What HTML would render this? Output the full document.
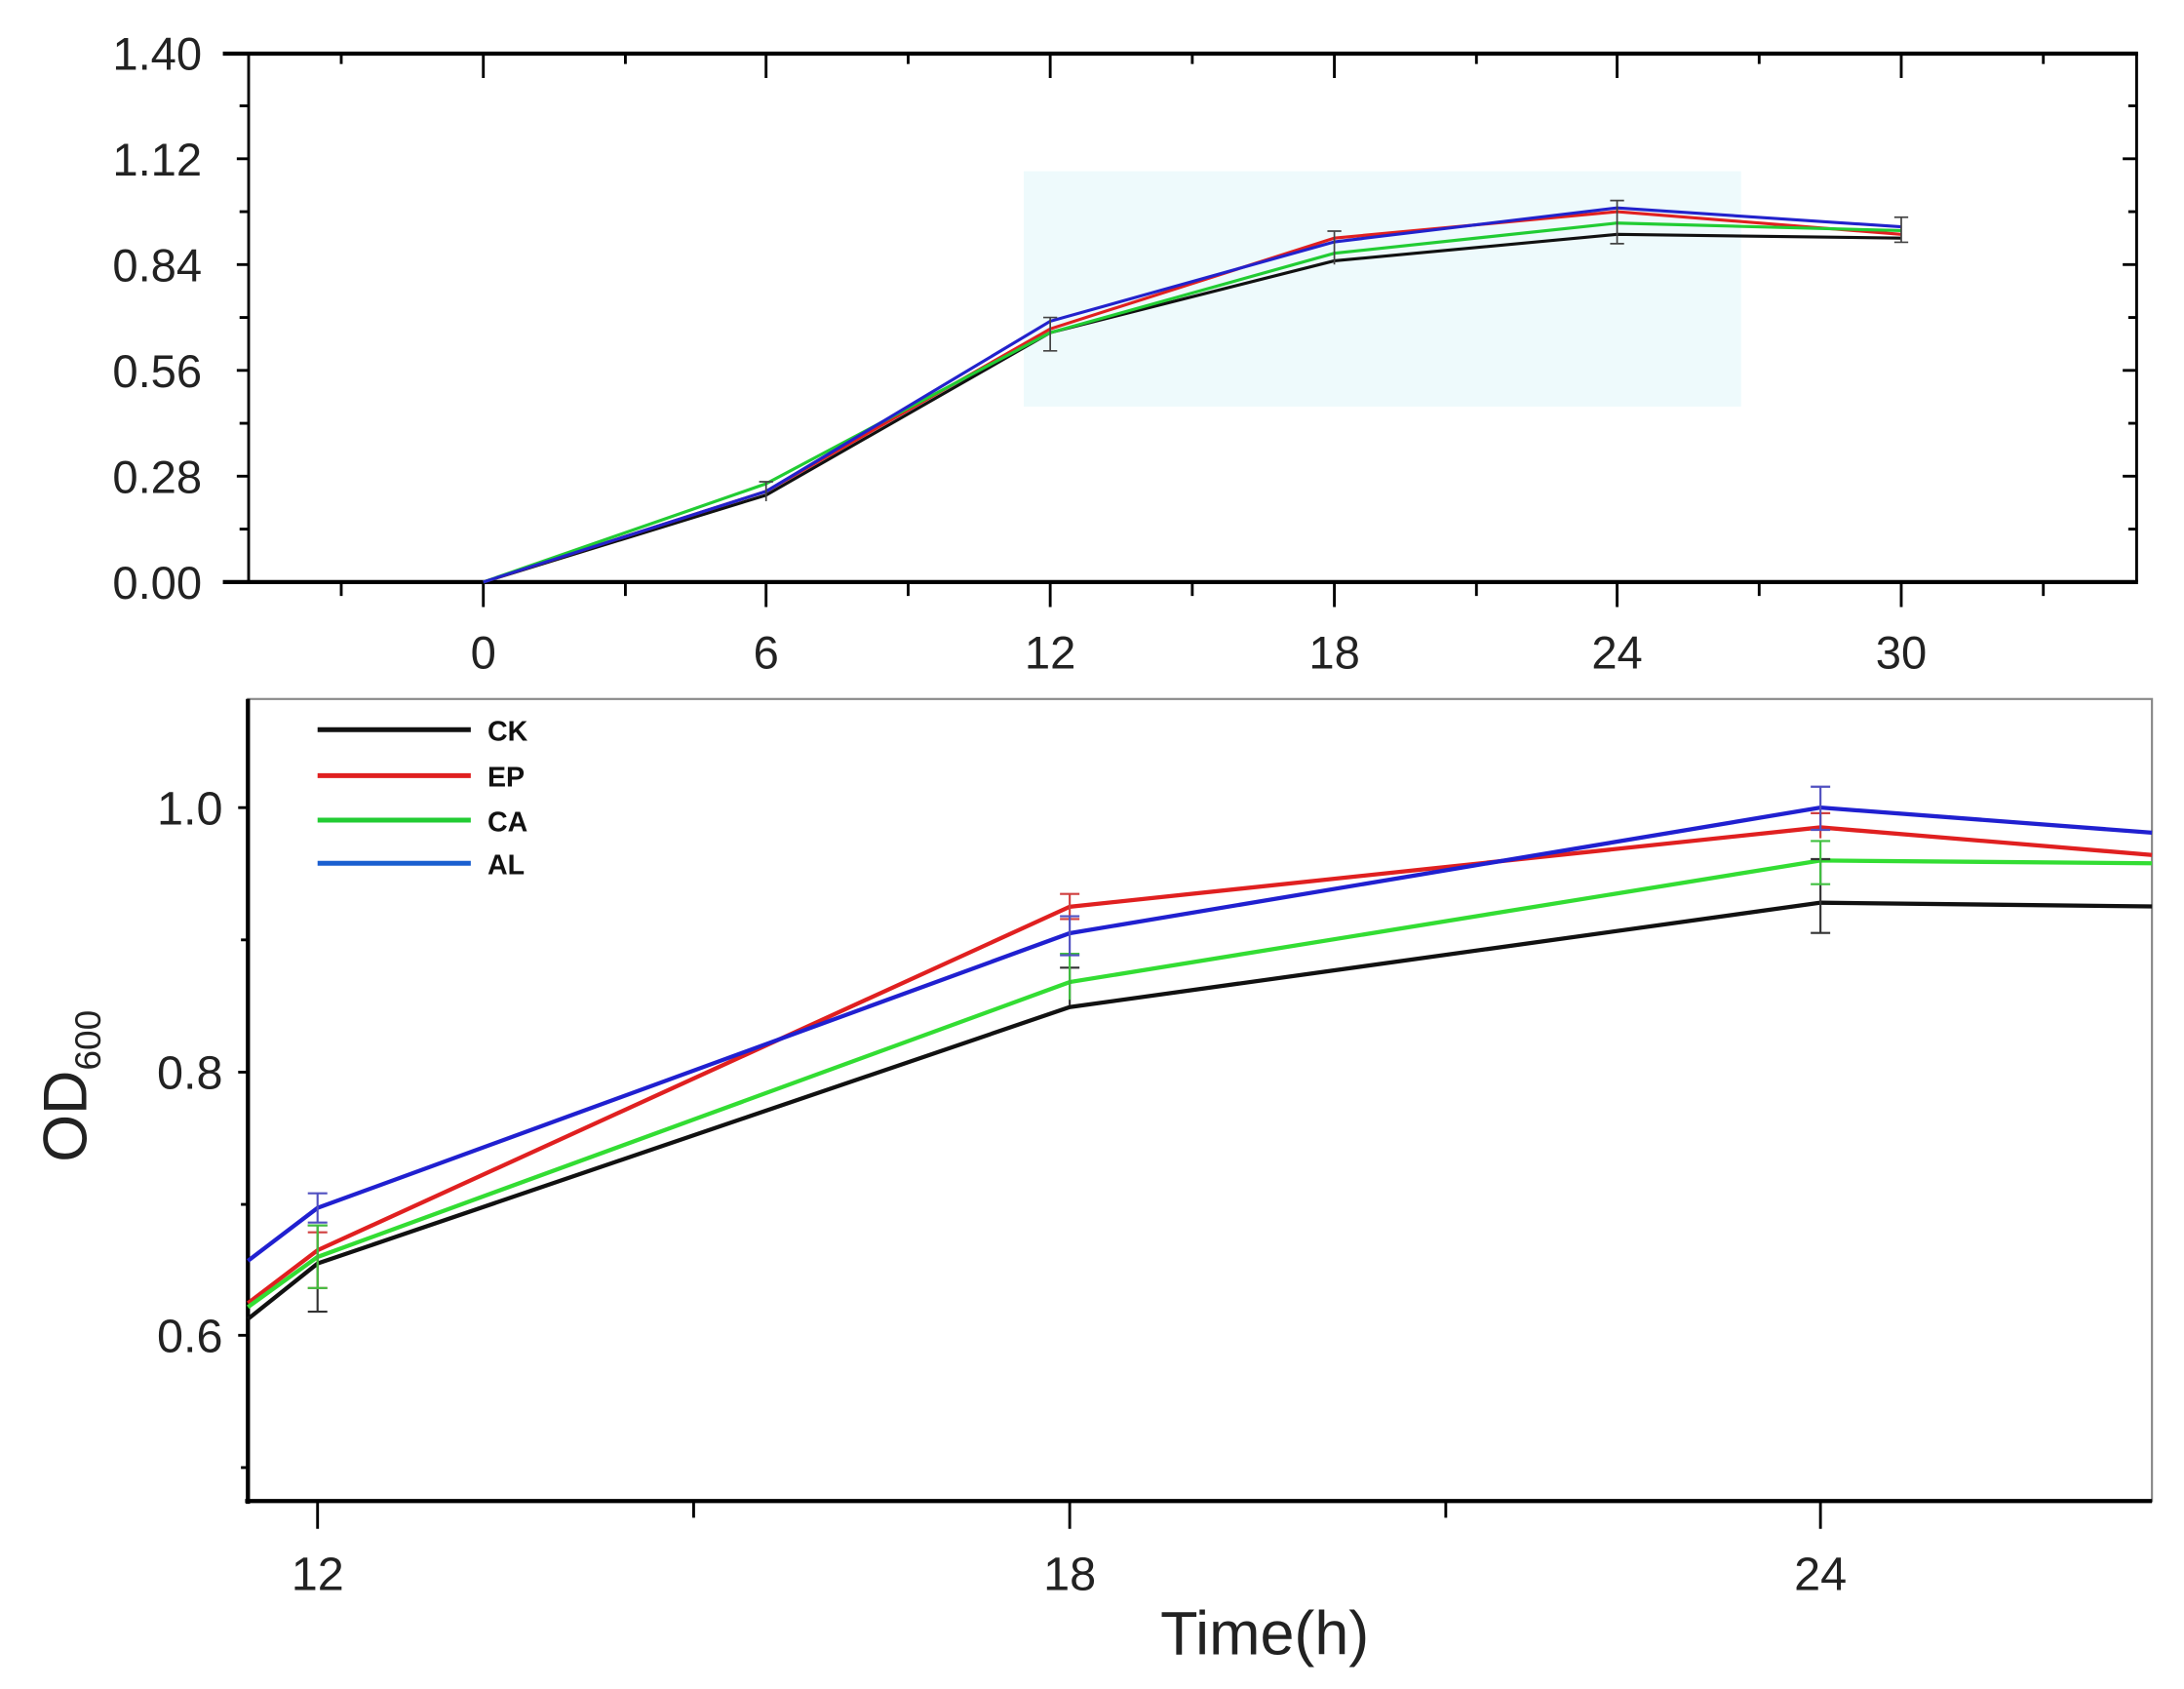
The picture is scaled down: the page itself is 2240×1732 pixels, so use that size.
<!DOCTYPE html>
<html><head><meta charset="utf-8"><style>html,body{margin:0;padding:0;background:#fff}svg{display:block}</style></head>
<body>
<svg width="2240" height="1732" viewBox="0 0 1568 1213" preserveAspectRatio="none" xmlns="http://www.w3.org/2000/svg" font-family="Liberation Sans, sans-serif">
<rect width="1568" height="1213" fill="#fff"/>
<!-- TOP PANEL -->
<rect x="735" y="123" width="515" height="169" fill="#eefafc"/>
<g stroke="#000" fill="none">
<line x1="160" y1="38.5" x2="1535" y2="38.5" stroke-width="3"/>
<line x1="160" y1="418" x2="1535" y2="418" stroke-width="3"/>
<line x1="178.5" y1="38" x2="178.5" y2="418" stroke-width="2"/>
<line x1="1534" y1="38" x2="1534" y2="418" stroke-width="2"/>
<g stroke-width="2">
<path d="M170 114H178M170 190H178M170 266H178M170 342H178M172 76H178M172 152H178M172 228H178M172 304H178M172 380H178"/>
<path d="M1524 114H1534M1524 190H1534M1524 266H1534M1524 342H1534M1528 76H1534M1528 152H1534M1528 228H1534M1528 304H1534M1528 380H1534"/>
<path d="M347 418V436M550 418V436M754 418V436M958 418V436M1161 418V436M1365 418V436M245 418V428M449 418V428M652 418V428M856 418V428M1060 418V428M1263 418V428M1467 418V428"/>
<path d="M347 38V56M550 38V56M754 38V56M958 38V56M1161 38V56M1365 38V56M245 38V46M449 38V46M652 38V46M856 38V46M1060 38V46M1263 38V46M1467 38V46"/>
</g>
</g>
<g font-size="33" fill="#222" text-anchor="end">
<text x="145" y="50">1.40</text><text x="145" y="126">1.12</text><text x="145" y="202">0.84</text>
<text x="145" y="278">0.56</text><text x="145" y="354">0.28</text><text x="145" y="430">0.00</text>
</g>
<g font-size="33" fill="#222" text-anchor="middle">
<text x="347" y="480">0</text><text x="550" y="480">6</text><text x="754" y="480">12</text>
<text x="958" y="480">18</text><text x="1161" y="480">24</text><text x="1365" y="480">30</text>
</g>
<g fill="none" stroke-width="2.2">
<polyline stroke="#111" points="347,418 550,355.6 754,238.9 958,187.3 1161,168.3 1365,171"/>
<polyline stroke="#e02020" points="347,418 550,352.9 754,236.2 958,171 1161,152 1365,168.3"/>
<polyline stroke="#22cc33" points="347,418 550,347.4 754,238.9 958,181.9 1161,160.2 1365,165.6"/>
<polyline stroke="#2222cc" points="347,418 550,352.9 754,230.7 958,173.7 1161,149.3 1365,162.9"/>
</g>
<g stroke="#444" stroke-width="1.2" fill="none">
<path d="M754 228V252M749 228H759M749 252H759M1161 144V175M1156 144H1166M1156 175H1166M1365 156V174M1360 156H1370M1360 174H1370M958 166V190M953 166H963M550 346V360M545 346H555"/>
</g>
<!-- BOTTOM PANEL -->
<rect x="178" y="502" width="1367" height="576" fill="none" stroke="#888" stroke-width="1.5"/>
<g stroke="#000" fill="none">
<line x1="178" y1="502" x2="178" y2="1080" stroke-width="3"/>
<line x1="176" y1="1078" x2="1545" y2="1078" stroke-width="3"/>
<path stroke-width="2" d="M171 580H178M171 770H178M171 959H178M173 675H178M173 865H178M173 1054H178M228 1078V1098M768 1078V1098M1307 1078V1098M498 1078V1090M1038 1078V1090"/>
</g>
<g font-size="34" fill="#222" text-anchor="end">
<text x="160" y="592">1.0</text><text x="160" y="782">0.8</text><text x="160" y="971">0.6</text>
</g>
<g font-size="34" fill="#222" text-anchor="middle">
<text x="228" y="1142">12</text><text x="768" y="1142">18</text><text x="1307" y="1142">24</text>
<text x="908" y="1188" font-size="44">Time(h)</text>
</g>
<text transform="translate(62,780) rotate(-90)" font-size="44" fill="#222" text-anchor="middle">OD<tspan font-size="26" dy="10">600</tspan></text>
<g stroke-width="3.5">
<line x1="228" y1="524" x2="338" y2="524" stroke="#111"/>
<line x1="228" y1="557" x2="338" y2="557" stroke="#e02020"/>
<line x1="228" y1="589" x2="338" y2="589" stroke="#22cc33"/>
<line x1="228" y1="620" x2="338" y2="620" stroke="#1a5fd0"/>
</g>
<g font-size="20" font-weight="bold" fill="#111">
<text x="350" y="532">CK</text><text x="350" y="565">EP</text><text x="350" y="597">CA</text><text x="350" y="628">AL</text>
</g>
<g fill="none" stroke-width="3">
<polyline stroke="#111" points="178,947.3 228,907.4 768,723.3 1307,648.3 1545,651"/>
<polyline stroke="#e02020" points="178,935.9 228,897.9 768,651.2 1307,594.2 1545,614"/>
<polyline stroke="#33dd33" points="178,938.7 228,902.7 768,705.3 1307,618 1545,620"/>
<polyline stroke="#2020d0" points="178,905.5 228,867.5 768,670.2 1307,580 1545,598"/>
</g>
<g stroke-width="1.5" fill="none">
<path stroke="#333" d="M228 880V942M221 880H235M221 942H235M768 695V722M761 695H775M1307 617V670M1300 617H1314M1300 670H1314"/>
<path stroke="#d04040" d="M228 885V925M221 885H235M221 925H235M768 642V660M761 642H775M761 660H775M1307 584V602M1300 584H1314"/>
<path stroke="#40c040" d="M228 880V925M221 880H235M221 925H235M768 685V718M761 685H775M1307 604V635M1300 604H1314M1300 635H1314"/>
<path stroke="#5050c0" d="M228 857V878M221 857H235M221 878H235M768 658V686M761 658H775M761 686H775M1307 565V596M1300 565H1314M1300 596H1314"/>
</g>
</svg>
</body></html>
